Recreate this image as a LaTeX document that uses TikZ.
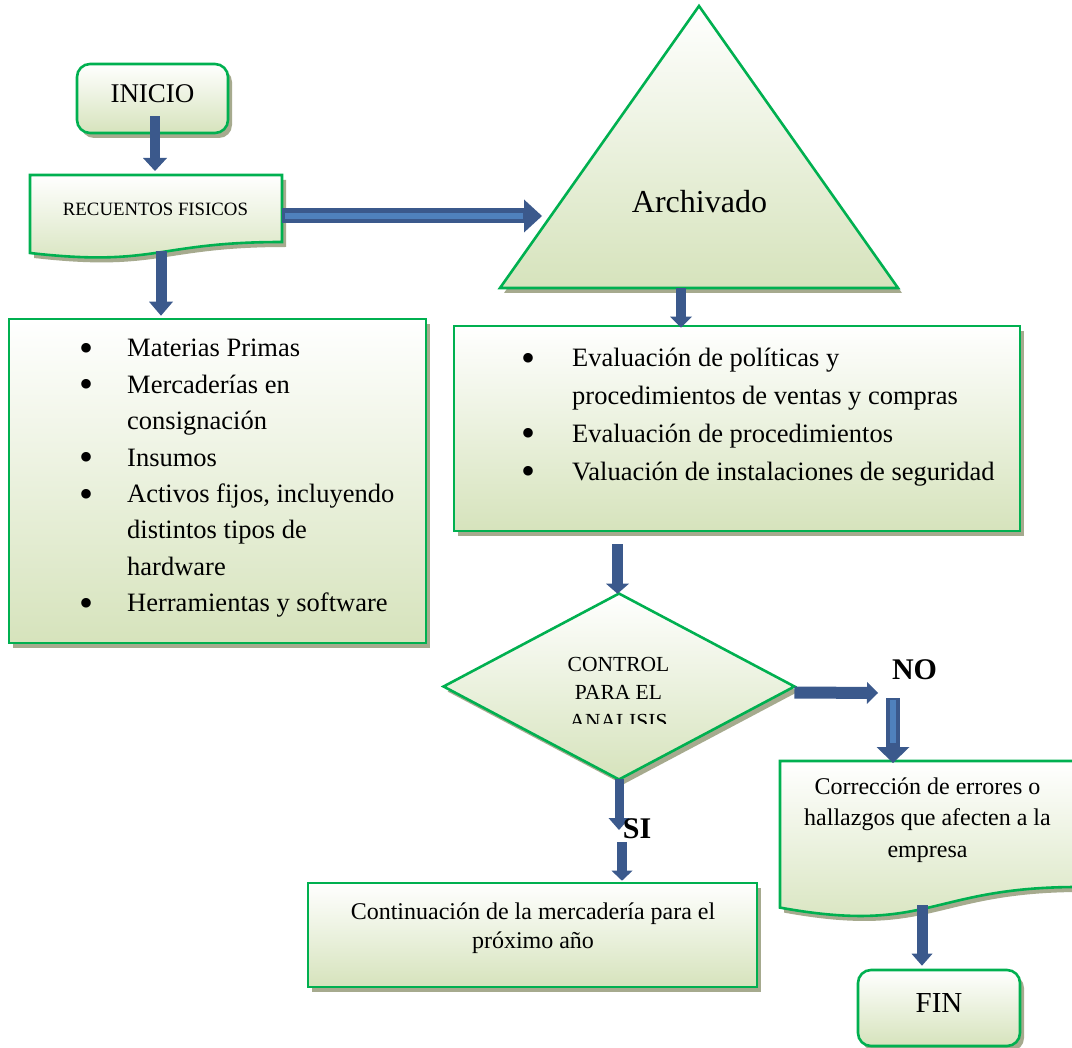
\documentclass[tikz,border=0pt]{standalone}
\usepackage{fontspec}
\setmainfont{Liberation Serif}
\usetikzlibrary{arrows.meta,shadows,calc,shapes.geometric}

\definecolor{boxedge}{RGB}{0,176,80}
\definecolor{boxbottom}{RGB}{214,227,188}
\definecolor{boxshadow}{RGB}{166,170,142}
\definecolor{flowdark}{RGB}{59,89,140}
\definecolor{flowlight}{RGB}{79,129,189}

% enlarged list bullet in a fixed-width slot
\newcommand\listdot[1]{\makebox[#1][l]{\raisebox{-4.5pt}{\fontsize{40pt}{40pt}\selectfont\textbullet}}}

\tikzset{
  panel/.style={draw=boxedge, line width=2.6pt, top color=white, bottom color=boxbottom,
    general shadow={shadow xshift=4pt, shadow yshift=-5pt, fill=boxshadow}},
  boxnode/.style={panel, rectangle, inner sep=0pt},
  termnode/.style={boxnode, rounded corners=13pt},
  txt/.style={inner sep=0pt},
  flow/.style n args={3}{draw=flowdark, line width=#1,
    -{Triangle[width=#2, length=#3, line width=0pt]}},
  stripe/.style={draw=flowlight, line width=#1},
}

\begin{document}
\begin{tikzpicture}[x=1pt, y=-1pt]
\fill[white] (0,0) rectangle (1072,1048);
\useasboundingbox (0,0) rectangle (1072,1048);

% ---- shapes ----
\node[termnode, minimum width=151pt, minimum height=69pt] (inicio) at (152.5,98.5) {};

% document shape: RECUENTOS FISICOS
\path[panel] (30,175) -- (282,175) -- (282,242)
  .. controls (156,242) and (156,267.4) .. (30,253) -- cycle;
\coordinate (rec-top) at (155,175);
\coordinate (rec-east) at (282,216);
\coordinate (rec-foot) at (161,251);

% triangle: Archivado
\path[panel] (699,6) -- (898,288) -- (500,288) -- cycle;
\coordinate (arch-west) at (551,216);
\coordinate (arch-base) at (699,288);

\node[boxnode, minimum width=417pt, minimum height=324pt] (lbox) at (217.5,481) {};
\node[boxnode, minimum width=566pt, minimum height=205pt] (rbox) at (737,428.5) {};

% decision
\node[panel, diamond, inner sep=0pt, minimum width=352pt, minimum height=187pt] (ctrl) at (619,686.5) {};

\node[boxnode, minimum width=449pt, minimum height=104pt] (cont) at (532.5,935) {};

% document shape: correction
\path[panel] (780,761) -- (1078,761) -- (1078,887)
  .. controls (929,887) and (929,934.8) .. (780,907.6) -- cycle;
\coordinate (corr-top) at (893,761);
\coordinate (corr-foot) at (922,905);

\node[termnode, minimum width=162pt, minimum height=76pt] (fin) at (939,1008) {};

\coordinate (no-turn) at (878,693);
\coordinate (si-end) at (619,830);
\coordinate (si-start) at (622,842);

% ---- connectors ----
\draw[flow={10pt}{24pt}{13pt}] ($(inicio.south)+(2.5,-18)$) -- ($(rec-top)+(0,-4)$);
\draw[flow={11pt}{24pt}{14pt}] (rec-foot) -- ($(lbox.north)+(-56.5,-2)$);
\draw[flow={15pt}{33pt}{18pt}] (rec-east) -- ($(arch-west)+(-9,0)$);
\draw[stripe=6pt] ($(rec-east)+(3,0)$) -- ($(arch-west)+(-28,0)$);
\draw[flow={10pt}{22pt}{11pt}] ($(arch-base)+(-18,0)$) -- ($(rbox.north)+(-56,3)$);
\draw[flow={11pt}{23pt}{10pt}] ($(rbox.south)+(-119.5,12)$) -- ($(ctrl.north)+(-1.5,2)$);
\draw[flow={12pt}{22pt}{11pt}] ($(ctrl.east)+(-2,6)$) -- (no-turn);
\draw[flow={14pt}{33pt}{16pt}] ($(no-turn)+(15,5)$) -- ($(corr-top)+(0,2)$);
\draw[stripe=6pt] ($(no-turn)+(15,7)$) -- ($(corr-top)+(0,-18)$);
\draw[flow={11pt}{21pt}{12pt}] (corr-foot) -- ($(fin.north)+(-17,-3)$);
\draw[flow={9pt}{21pt}{12pt}] ($(ctrl.south)+(0,-2)$) -- (si-end);
\draw[flow={10pt}{21pt}{10pt}] (si-start) -- ($(cont.north)+(89.5,-1)$);

% ---- texts ----
\node[txt, anchor=base, font=\fontsize{27pt}{32pt}\selectfont] (t-inicio) at (152.5,103) {INICIO};
\node[txt, anchor=base, font=\fontsize{18.8pt}{22pt}\selectfont] (t-rec) at (155.5,216) {RECUENTOS FISICOS};
\node[txt, anchor=base, font=\fontsize{32pt}{38pt}\selectfont] (t-arch) at (699.5,213) {Archivado};

\node[txt, anchor=base west, font=\fontsize{26.5pt}{36.4pt}\selectfont] (t-lbox) at (79,357) {%
\begin{tabular}[t]{@{}l@{}l@{}}
\listdot{48pt} & Materias Primas\\
\listdot{48pt} & Mercaderías en\\
 & consignación\\
\listdot{48pt} & Insumos\\
\listdot{48pt} & Activos fijos, incluyendo\\
 & distintos tipos de\\
 & hardware\\
\listdot{48pt} & Herramientas y software
\end{tabular}};

\node[txt, anchor=base west, font=\fontsize{26.5pt}{37.7pt}\selectfont] (t-rbox) at (521.5,367) {%
\begin{tabular}[t]{@{}l@{}l@{}}
\listdot{50.5pt} & Evaluación de políticas y\\
 & procedimientos de ventas y compras\\
\listdot{50.5pt} & Evaluación de procedimientos\\
\listdot{50.5pt} & Valuación de instalaciones de seguridad
\end{tabular}};

\begin{scope}
  \clip (440,640) rectangle (800,723);
  \node[txt, anchor=base, font=\fontsize{21.5pt}{28.5pt}\selectfont] (t-ctrl) at (618.5,671) {%
  \begin{tabular}[t]{@{}c@{}}CONTROL\\ PARA EL\\ ANALISIS\end{tabular}};
\end{scope}

\node[txt, anchor=base, font=\fontsize{30pt}{34pt}\selectfont\bfseries] (t-no) at (914.5,679) {NO};
\node[txt, anchor=base, font=\fontsize{30pt}{34pt}\selectfont\bfseries] (t-si) at (637,838) {SI};

\node[txt, anchor=base, font=\fontsize{24pt}{31.5pt}\selectfont] (t-corr) at (927.5,794) {%
\begin{tabular}[t]{@{}c@{}}Corrección de errores o\\ hallazgos que afecten a la\\ empresa\end{tabular}};

\node[txt, anchor=base, font=\fontsize{24pt}{29.5pt}\selectfont] (t-cont) at (533,919) {%
\begin{tabular}[t]{@{}c@{}}Continuación de la mercadería para el\\ próximo año\end{tabular}};

\node[txt, anchor=base, font=\fontsize{29pt}{34pt}\selectfont] (t-fin) at (939,1012) {FIN};
\end{tikzpicture}
\end{document}
